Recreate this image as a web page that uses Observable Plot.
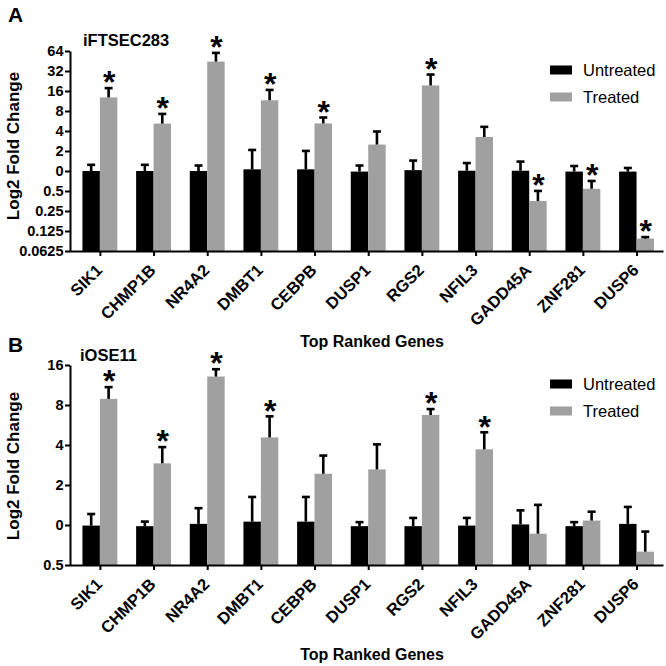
<!DOCTYPE html>
<html>
<head>
<meta charset="utf-8">
<script src="https://cdn.jsdelivr.net/npm/d3@7"></script>
<script src="https://cdn.jsdelivr.net/npm/@observablehq/plot@0.6"></script>
<style>
  html, body { margin: 0; padding: 0; background: #fff; }
  #wrap { position: relative; width: 666px; height: 666px; font-family: "Liberation Sans", Arial, sans-serif; color: #000; overflow: hidden; }
  .abs { position: absolute; white-space: nowrap; }
  .panel { position: absolute; left: 0; }
  .letter { font-weight: bold; font-size: 21px; }
  .sub { font-weight: bold; font-size: 16.5px; }
  .ytitle { font-weight: bold; font-size: 17px; transform: translate(-50%, -50%) rotate(-90deg); }
  .xtitle { font-weight: bold; font-size: 16px; transform: translate(-50%, -50%); }
  .leg { font-size: 16.5px; display: flex; align-items: center; transform: translateY(-50%); }
  .sw { width: 22px; height: 9px; margin-right: 11px; display: inline-block; }
</style>
</head>
<body>
<div id="wrap"></div>
<script>
// ---------- data ----------
const genes = ["SIK1", "CHMP1B", "NR4A2", "DMBT1", "CEBPB", "DUSP1", "RGS2", "NFIL3", "GADD45A", "ZNF281", "DUSP6"];
const seriesNames = ["Untreated", "Treated"];

// Panel A: iFTSEC283 (fold change, plotted on log2 axis)
const untreatedA    = [1.00, 1.00, 1.00, 1.06, 1.06, 0.98, 1.03, 1.01, 1.01, 0.98, 0.98];
const untreatedErrA = [1.26, 1.26, 1.23, 2.11, 2.04, 1.23, 1.46, 1.34, 1.41, 1.21, 1.13];
const treatedA      = [12.8, 5.17, 44.3, 11.6, 5.2, 2.5, 19.4, 3.25, 0.354, 0.54, 0.096];
const treatedErrA   = [18.0, 7.36, 61.0, 16.9, 6.5, 4.0, 28.8, 4.7, 0.51, 0.72, 0.103];
const sigA          = [1, 1, 1, 1, 1, 0, 1, 0, 1, 1, 1];
const yTicksA       = [0.0625, 0.125, 0.25, 0.5, 1, 2, 4, 8, 16, 32, 64];
const yTickLabelsA  = ["0.0625", "0.125", "0.25", "0.5", "0", "2", "4", "8", "16", "32", "64"];

// Panel B: iOSE11
const untreatedB    = [0.99, 0.98, 1.02, 1.06, 1.06, 0.98, 0.98, 0.99, 1.01, 0.98, 1.02];
const untreatedErrB = [1.22, 1.07, 1.35, 1.64, 1.64, 1.06, 1.14, 1.14, 1.30, 1.06, 1.38];
const treatedB      = [8.9, 2.91, 13.1, 4.56, 2.43, 2.62, 6.73, 3.71, 0.86, 1.08, 0.63];
const treatedErrB   = [11.0, 3.89, 15.0, 6.63, 3.36, 4.08, 7.52, 5.03, 1.43, 1.27, 0.90];
const sigB          = [1, 1, 1, 1, 0, 0, 1, 1, 0, 0, 0];
const yTicksB       = [0.5, 1, 2, 4, 8, 16];
const yTickLabelsB  = ["0.5", "0", "2", "4", "8", "16"];

const colors = {Untreated: "#000000", Treated: "#a0a0a0"};

// ---------- layout ----------
const W = 666, ML = 70, MR = 3;
const padIn = 0.35, padOut = 0.2;
const step = (W - ML - MR) / (genes.length - padIn + 2 * padOut);
const bw = step * (1 - padIn);
const half = bw / 2, q = bw / 4;
const stemW = 2.6, capW = 8;
const FONT = "'Liberation Sans', Arial, sans-serif";

function rows(vals, errs, sig) {
  return genes.map((g, i) => ({gene: g, value: vals[i], err: errs[i], sig: sig ? sig[i] : 0}));
}

function panel({untreated, untreatedErr, treated, treatedErr, sig, ticks, labels, height, mt, mb}) {
  const U = rows(untreated, untreatedErr);
  const T = rows(treated, treatedErr, sig);
  const ymin = ticks[0], ymax = ticks[ticks.length - 1];
  const fw = W - ML - MR, fh = height - mt - mb;
  return Plot.plot({
    width: W, height,
    marginLeft: ML, marginRight: MR, marginTop: mt, marginBottom: mb,
    style: {fontFamily: FONT, fontSize: "14.5px", fontWeight: "bold", background: "#fff", color: "#000", overflow: "visible"},
    x: {type: "band", domain: genes, paddingInner: padIn, paddingOuter: padOut, align: 0.58, round: false, axis: null},
    y: {type: "log", base: 2, domain: [ymin, ymax], axis: null},
    marks: [
      // bars
      Plot.barY(U, {x: "gene", y1: ymin, y2: "value", fill: colors.Untreated, insetRight: half}),
      Plot.barY(T, {x: "gene", y1: ymin, y2: "value", fill: colors.Treated, insetLeft: half}),
      // error stems
      Plot.barY(U, {x: "gene", y1: "value", y2: "err", fill: "#000", insetLeft: q - stemW / 2, insetRight: 3 * q - stemW / 2}),
      Plot.barY(T, {x: "gene", y1: "value", y2: "err", fill: "#000", insetLeft: 3 * q - stemW / 2, insetRight: q - stemW / 2}),
      // error caps
      Plot.tickY(U, {x: "gene", y: "err", stroke: "#000", strokeWidth: 2.6, insetLeft: q - capW / 2, insetRight: 3 * q - capW / 2}),
      Plot.tickY(T, {x: "gene", y: "err", stroke: "#000", strokeWidth: 2.6, insetLeft: 3 * q - capW / 2, insetRight: q - capW / 2}),
      // significance asterisks
      Plot.text(T.filter(d => d.sig), {x: "gene", y: "err", text: () => "*", dx: q, dy: -5, fontSize: 32, fontWeight: "bold", lineAnchor: "middle", fill: "#000"}),
      // axes lines (left + bottom)
      Plot.frame({stroke: "#000", strokeWidth: 2, strokeDasharray: `0 ${fw + fh} ${fw + fh}`}),
      Plot.axisY({ticks, tickFormat: d => labels[ticks.indexOf(d)], tickSize: 5, tickPadding: 2, strokeWidth: 2, fontSize: 14.5, fontWeight: "bold"}),
      Plot.axisX({tickSize: 5, strokeWidth: 2, tickFormat: () => "", label: null}),
      // rotated gene labels
      Plot.text(genes, {x: d => d, frameAnchor: "bottom", text: d => d, rotate: -45, textAnchor: "end", lineAnchor: "middle", dx: -1, dy: 16, fontSize: 16.5, fontWeight: "bold", fontFamily: FONT, fill: "#000"})
    ]
  });
}

const wrap = document.getElementById("wrap");

function add(html, cls, left, top) {
  const d = document.createElement("div");
  d.className = "abs " + cls;
  d.style.left = left + "px";
  d.style.top = top + "px";
  d.innerHTML = html;
  wrap.appendChild(d);
  return d;
}

// Panel A
const pa = document.createElement("div");
pa.className = "panel"; pa.style.top = "0px";
pa.appendChild(panel({untreated: untreatedA, untreatedErr: untreatedErrA, treated: treatedA, treatedErr: treatedErrA, sig: sigA, ticks: yTicksA, labels: yTickLabelsA, height: 330, mt: 51, mb: 79}));
wrap.appendChild(pa);

// Panel B
const pb = document.createElement("div");
pb.className = "panel"; pb.style.top = "330px";
pb.appendChild(panel({untreated: untreatedB, untreatedErr: untreatedErrB, treated: treatedB, treatedErr: treatedErrB, sig: sigB, ticks: yTicksB, labels: yTickLabelsB, height: 336, mt: 35, mb: 101}));
wrap.appendChild(pb);

// Text annotations
add("A", "letter", 8, 3);
add("B", "letter", 8, 333);
add("iFTSEC283", "sub", 83, 31);
add("iOSE11", "sub", 80, 346);
add("Log2 Fold Change", "ytitle", 14, 146);
add("Log2 Fold Change", "ytitle", 14, 466);
add("Top Ranked Genes", "xtitle", 372, 342);
add("Top Ranked Genes", "xtitle", 372, 655);

function legend(top1, top2) {
  [[seriesNames[0], top1], [seriesNames[1], top2]].forEach(([name, t]) => {
    add(`<span class="sw" style="background:${colors[name]}"></span><span>${name}</span>`, "leg", 550, t);
  });
}
legend(70, 97);
legend(384, 411);
</script>
</body>
</html>
